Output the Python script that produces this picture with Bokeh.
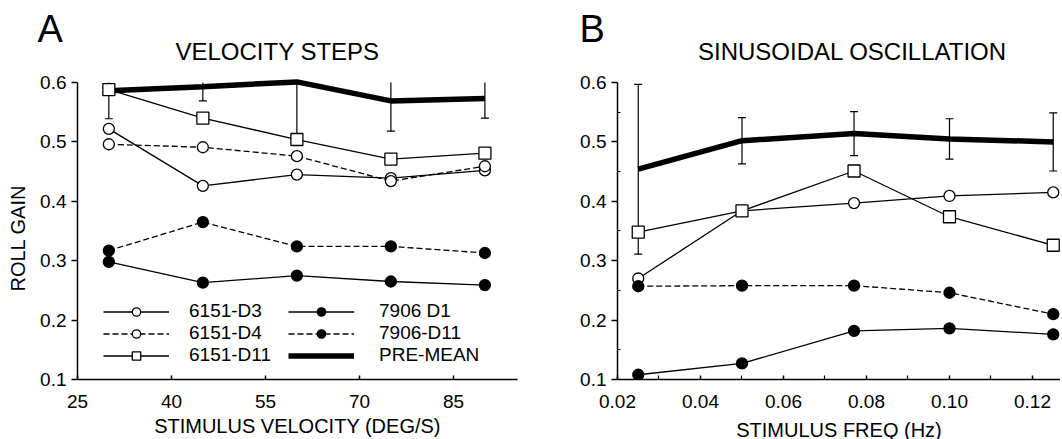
import numpy as np
from bokeh.plotting import figure
from bokeh.models import (Range1d, FixedTicker, Label, Legend, LegendItem, Whisker,
                          TeeHead, ColumnDataSource, NumeralTickFormatter, Title)
from bokeh.layouts import row
from bokeh.embed import file_html
from bokeh.resources import INLINE

FONT = "Liberation Sans"

# ---------------- data: panel A (velocity steps) ----------------
vel = [30, 45, 60, 75, 90]
a_6151_d3 = [0.522, 0.426, 0.445, 0.439, 0.452]
a_6151_d4 = [0.496, 0.491, 0.476, 0.434, 0.459]
a_6151_d11 = [0.588, 0.540, 0.504, 0.471, 0.481]
a_7906_d1 = [0.298, 0.263, 0.275, 0.265, 0.259]
a_7906_d11 = [0.317, 0.365, 0.324, 0.324, 0.313]
a_pre_mean = [0.586, 0.593, 0.601, 0.569, 0.573]
a_pre_err = [0.047, 0.024, 0.100, 0.051, 0.033]

# ---------------- data: panel B (sinusoidal oscillation) ----------------
freq = [0.025, 0.05, 0.077, 0.10, 0.125]
b_6151_d3 = [0.270, 0.384, 0.397, 0.409, 0.415]
b_6151_d11 = [0.348, 0.384, 0.451, 0.374, 0.326]
b_7906_d1 = [0.108, 0.127, 0.182, 0.186, 0.176]
b_7906_d11 = [0.257, 0.258, 0.258, 0.246, 0.210]
b_pre_mean = [0.454, 0.502, 0.514, 0.505, 0.500]
b_pre_err = [0.143, 0.039, 0.037, 0.034, 0.049]

# ticks
vel_ticks = [25, 40, 55, 70, 85]
freq_ticks = [0.02, 0.04, 0.06, 0.08, 0.10, 0.12]
freq_minor = [0.03, 0.05, 0.07, 0.09, 0.11]
gain_ticks = [0.1, 0.2, 0.3, 0.4, 0.5, 0.6]
gain_minor = [0.15, 0.25, 0.35, 0.45, 0.55]
GAIN_MIN, GAIN_MAX = 0.1, 0.6

Y_TOP = 0.6707  # frame extends above the axis so that the panel titles fit inside


def make_fig(frame_w, left, right, xr):
    p = figure(frame_width=frame_w, frame_height=339, output_backend="svg",
               toolbar_location=None,
               x_range=Range1d(*xr), y_range=Range1d(GAIN_MIN, Y_TOP),
               min_border_left=left, min_border_right=right,
               min_border_top=40, min_border_bottom=58)
    p.outline_line_color = None
    p.grid.visible = False
    p.background_fill_color = "white"
    p.border_fill_color = "white"
    for ax in (p.xaxis[0], p.yaxis[0]):
        ax.axis_line_width = 1.5
        ax.axis_line_color = "black"
        ax.major_tick_line_width = 1.5
        ax.minor_tick_line_width = 1.2
        ax.major_tick_line_color = "black"
        ax.minor_tick_line_color = "black"
        ax.major_label_text_font = FONT
        ax.major_label_text_font_size = "19px"
        ax.major_label_text_color = "black"
        ax.axis_label_text_font = FONT
        ax.axis_label_text_font_size = "20px"
        ax.axis_label_text_font_style = "normal"
        ax.axis_label_text_color = "black"
    xa = p.xaxis[0]
    xa.major_tick_in = 4
    xa.major_tick_out = 0
    xa.minor_tick_in = 4
    xa.minor_tick_out = 0
    xa.major_label_standoff = 15
    xa.axis_label_standoff = 4
    ya = p.yaxis[0]
    ya.bounds = (GAIN_MIN, GAIN_MAX)
    ya.major_tick_in = 0
    ya.major_tick_out = 6
    ya.minor_tick_in = 3
    ya.minor_tick_out = 0
    ya.major_label_standoff = 5
    ya.formatter = NumeralTickFormatter(format="0.0")
    return p


def label(p, text, x, y, size, align="left"):
    p.add_layout(Label(x=x, y=y, x_units="screen", y_units="screen", text=text,
                       text_font=FONT, text_font_size=size, text_align=align,
                       text_baseline="middle", text_color="black"))


def letter(p, text, offset):
    p.add_layout(Title(text=text, align="left", vertical_align="bottom", offset=offset,
                       standoff=-18, text_font=FONT, text_font_size="38px",
                       text_font_style="normal", text_color="black"), "above")


def series(p, x, y, marker, filled, dash, size=11):
    ln = p.line(x, y, line_color="black", line_width=1.3, line_dash=dash)
    sc = p.scatter(x, y, marker=marker, size=size, line_color="black", line_width=1.3,
                   fill_color="black" if filled else "white")
    return [ln, sc]


def pre_mean(p, x, mean, err):
    m = np.array(mean)
    e = np.array(err)
    up = np.minimum(m + e, GAIN_MAX)
    clipped = bool(np.any(m + e > GAIN_MAX))
    src = ColumnDataSource(dict(x=x, lower=m - e, upper=up))
    w = Whisker(source=src, base="x", lower="lower", upper="upper",
                line_color="black", line_width=1.2,
                upper_head=None if clipped else TeeHead(size=8, line_width=1.2, line_color="black"),
                lower_head=TeeHead(size=8, line_width=1.2, line_color="black"))
    p.add_layout(w)
    return [p.line(x, mean, line_color="black", line_width=5.5)]


# ---------------- Panel A ----------------
pA = make_fig(440, 77, 15, (25, 95.2))
pA.xaxis[0].ticker = FixedTicker(ticks=vel_ticks, minor_ticks=[])
pA.yaxis[0].ticker = FixedTicker(ticks=gain_ticks, minor_ticks=[])
pA.xaxis[0].axis_label = "STIMULUS VELOCITY (DEG/S)"

rA_mean = pre_mean(pA, vel, a_pre_mean, a_pre_err)
rA_d3 = series(pA, vel, a_6151_d3, "circle", False, "solid")
rA_d4 = series(pA, vel, a_6151_d4, "circle", False, "6 3")
rA_d11 = series(pA, vel, a_6151_d11, "square", False, "solid", size=12)
rA_1 = series(pA, vel, a_7906_d1, "circle", True, "solid")
rA_11 = series(pA, vel, a_7906_d11, "circle", True, "6 3")

leg_common = dict(orientation="vertical", glyph_width=66, glyph_height=21, label_height=21,
                  spacing=0, padding=0, margin=0, label_text_font=FONT,
                  label_text_font_size="19px", label_text_color="black",
                  border_line_alpha=0, background_fill_alpha=0)
leg1 = Legend(items=[LegendItem(label="6151-D3", renderers=rA_d3),
                     LegendItem(label="6151-D4", renderers=rA_d4),
                     LegendItem(label="6151-D11", renderers=rA_d11)],
              location=(26, 13), label_standoff=20, **leg_common)
leg2 = Legend(items=[LegendItem(label="7906 D1", renderers=rA_1),
                     LegendItem(label="7906-D11", renderers=rA_11),
                     LegendItem(label="PRE-MEAN", renderers=rA_mean)],
              location=(211, 13), label_standoff=25, **leg_common)
pA.add_layout(leg1)
pA.add_layout(leg2)

label(pA, "VELOCITY STEPS", 200, 328, "24px", align="center")
letter(pA, "A", -40)
pA.add_layout(Title(text="ROLL GAIN", align="left", vertical_align="top", offset=88,
                    standoff=13, text_font=FONT, text_font_size="20px",
                    text_font_style="normal", text_color="black"), "left")

# ---------------- Panel B ----------------
pB = make_fig(443, 85, 0, (0.02, 0.12675))
pB.xaxis[0].ticker = FixedTicker(ticks=freq_ticks, minor_ticks=freq_minor)
pB.xaxis[0].formatter = NumeralTickFormatter(format="0.00")
pB.yaxis[0].ticker = FixedTicker(ticks=gain_ticks, minor_ticks=gain_minor)
pB.xaxis[0].axis_label = "STIMULUS FREQ (Hz)"
pB.xaxis[0].axis_label_standoff = 8

pre_mean(pB, freq, b_pre_mean, b_pre_err)
series(pB, freq, b_6151_d3, "circle", False, "solid")
series(pB, freq, b_6151_d11, "square", False, "solid", size=12)
series(pB, freq, b_7906_d11, "circle", True, "6 3")
series(pB, freq, b_7906_d1, "circle", True, "solid")

label(pB, "SINUSOIDAL OSCILLATION", 235, 328, "24px", align="center")
letter(pB, "B", -38)

layout = row(pA, pB)
open("out.html", "w").write(file_html(layout, INLINE))
